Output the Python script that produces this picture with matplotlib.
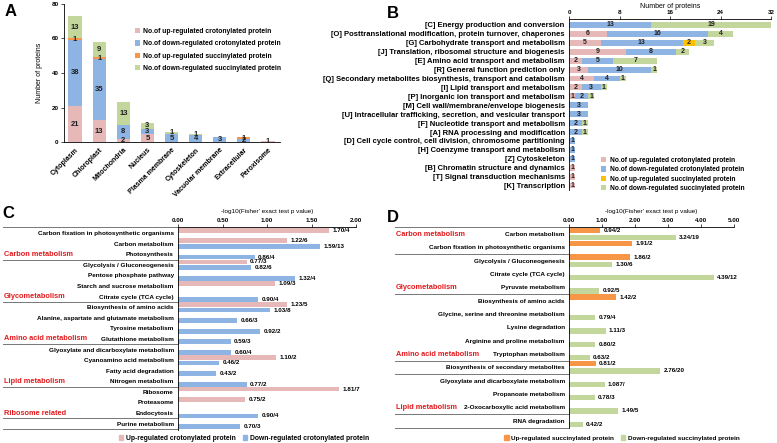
import matplotlib.pyplot as plt
import matplotlib.transforms as mtransforms
from matplotlib.patches import Patch
import numpy as np

plt.rcParams['font.family'] = ['Liberation Sans', 'DejaVu Sans']
plt.rcParams['font.weight'] = 'bold'
plt.rcParams['axes.linewidth'] = 0.6

PINK = '#E6B9B8'
BLUE = '#8DB4E2'
ORANGE = '#F79646'
GOLD = '#FFC000'
GREEN = '#C3D69B'
RED = '#E3191C'
LINE = '#606060'

# ---- A: subcellular location ----
loc_names = ['Cytoplasm', 'Chloroplast', 'Mitochondria', 'Nucleus', 'Plasma membrane',
             'Cytoskeleton', 'Vacuolar membrane', 'Extracellular', 'Peroxisome']
loc_up_cro = [21, 13, 2, 5, 0, 0, 0, 0, 1]
loc_down_cro = [38, 35, 8, 3, 5, 4, 3, 2, 0]
loc_up_suc = [1, 1, 0, 0, 0, 0, 0, 1, 0]
loc_down_suc = [13, 9, 13, 3, 1, 1, 0, 0, 0]

# ---- B: COG classes ----
cog_names = ['[C] Energy production and conversion',
             '[O] Posttranslational modification, protein turnover, chaperones',
             '[G] Carbohydrate transport and metabolism',
             '[J] Translation, ribosomal structure and biogenesis',
             '[E] Amino acid transport and metabolism',
             '[R] General function prediction only',
             '[Q] Secondary metabolites biosynthesis, transport and catabolism',
             '[I] Lipid transport and metabolism',
             '[P] Inorganic ion transport and metabolism',
             '[M] Cell wall/membrane/envelope biogenesis',
             '[U] Intracellular trafficking, secretion, and vesicular transport',
             '[F] Nucleotide transport and metabolism',
             '[A] RNA processing and modification',
             '[D] Cell cycle control, cell division, chromosome partitioning',
             '[H] Coenzyme transport and metabolism',
             '[Z] Cytoskeleton',
             '[B] Chromatin structure and dynamics',
             '[T] Signal transduction mechanisms',
             '[K] Transcription']
cog_up_cro = [0, 6, 5, 9, 2, 3, 4, 2, 1, 0, 0, 0, 0, 0, 0, 0, 1, 1, 1]
cog_down_cro = [13, 16, 13, 8, 5, 10, 4, 3, 2, 3, 3, 2, 2, 1, 1, 1, 0, 0, 0]
cog_up_suc = [0, 0, 2, 0, 0, 0, 0, 0, 0, 0, 0, 0, 0, 0, 0, 0, 0, 0, 0]
cog_down_suc = [19, 4, 3, 2, 7, 1, 1, 1, 1, 0, 0, 1, 1, 0, 0, 0, 0, 0, 0]

# ---- C: KEGG crotonylation ----
kc_names = ['Carbon fixation in photosynthetic organisms', 'Carbon metabolism', 'Photosynthesis',
            'Glycolysis / Gluconeogenesis', 'Pentose phosphate pathway', 'Starch and sucrose metabolism',
            'Citrate cycle (TCA cycle)', 'Biosynthesis of amino acids',
            'Alanine, aspartate and glutamate metabolism', 'Tyrosine metabolism',
            'Glutathione metabolism', 'Glyoxylate and dicarboxylate metabolism',
            'Cyanoamino acid metabolism', 'Fatty acid degradation', 'Nitrogen metabolism',
            'Ribosome', 'Proteasome', 'Endocytosis', 'Purine metabolism']
kc_up_val = [1.70, 1.22, 0, 0.77, 0, 1.09, 0, 1.23, 0, 0, 0, 0, 1.10, 0, 0, 1.81, 0.75, 0, 0]
kc_up_n = [4, 6, 0, 3, 0, 3, 0, 5, 0, 0, 0, 0, 2, 0, 0, 7, 2, 0, 0]
kc_down_val = [0, 1.59, 0.86, 0.82, 1.32, 0, 0.90, 1.03, 0.66, 0.92, 0.59, 0.60, 0.46, 0.43, 0.77,
               0, 0, 0.90, 0.70]
kc_down_n = [0, 13, 4, 6, 4, 0, 4, 8, 3, 2, 3, 4, 2, 2, 2, 0, 0, 4, 3]
kc_groups = [('Carbon metabolism', 2), ('Glycometabolism', 6), ('Amino acid metabolism', 10),
             ('Lipid metabolism', 14), ('Ribosome related', 17)]
kc_seps = [2.5, 6.5, 10.5, 14.5, 17.5, 18.55]

# ---- D: KEGG succinylation ----
ks_names = ['Carbon metabolism', 'Carbon fixation in photosynthetic organisms',
            'Glycolysis / Gluconeogenesis', 'Citrate cycle (TCA cycle)', 'Pyruvate metabolism',
            'Biosynthesis of amino acids', 'Glycine, serine and threonine metabolism',
            'Lysine degradation', 'Arginine and proline metabolism', 'Tryptophan metabolism',
            'Biosynthesis of secondary metabolites', 'Glyoxylate and dicarboxylate metabolism',
            'Propanoate metabolism', '2-Oxocarboxylic acid metabolism', 'RNA degradation']
ks_up_val = [0.94, 1.91, 1.86, 0, 0, 1.42, 0, 0, 0, 0, 0.81, 0, 0, 0, 0]
ks_up_n = [2, 2, 2, 0, 0, 2, 0, 0, 0, 0, 2, 0, 0, 0, 0]
ks_down_val = [3.24, 0, 1.30, 4.39, 0.92, 0, 0.79, 1.11, 0.80, 0.63, 2.76, 1.08, 0.78, 1.49, 0.42]
ks_down_n = [19, 0, 6, 12, 5, 0, 4, 3, 2, 2, 20, 7, 3, 5, 2]
ks_groups = [('Carbon metabolism', 0), ('Glycometabolism', 4), ('Amino acid metabolism', 9),
             ('Lipid metabolism', 13)]
ks_seps = [1.5, 4.5, 9.5, 10.5, 13.5, 14.55]

W, H = 777, 443
fig = plt.figure(figsize=(W / 100, H / 100), dpi=100)


def box(l, r, t, b):
    return [l / W, 1 - b / H, (r - l) / W, (b - t) / H]


# ================= A =================
axA = fig.add_axes(box(64, 280, 3.6, 142.4))
x = np.arange(len(loc_names))
bottom = np.zeros(len(x))
for vals, col, lab in [(loc_up_cro, PINK, 'No.of up-regulated crotonylated protein'),
                       (loc_down_cro, BLUE, 'No.of down-regulated crotonylated protein'),
                       (loc_up_suc, ORANGE, 'No.of up-regulated succinylated protein'),
                       (loc_down_suc, GREEN, 'No.of down-regulated succinylated protein')]:
    bars = axA.bar(x, vals, 0.55, bottom=bottom, color=col, label=lab)
    axA.bar_label(bars, labels=[str(v) if v else '' for v in vals], label_type='center',
                  fontsize=5.5, color='#202020')
    bottom += np.array(vals)
axA.set_xlim(-0.46, 8.5)
axA.set_ylim(0, 80)
axA.set_yticks([0, 20, 40, 60, 80])
axA.tick_params(axis='y', labelsize=4.5, length=2, width=0.5, pad=2)
axA.set_xticks(x)
axA.set_xticklabels(loc_names, rotation=45, ha='right', rotation_mode='anchor', fontsize=5)
axA.tick_params(axis='x', length=0, pad=3)
axA.set_ylabel('Number of proteins', fontsize=5, labelpad=6)
for s in ['top', 'right']:
    axA.spines[s].set_visible(False)
axA.legend(loc='upper left', bbox_to_anchor=(135 / W, 1 - 28 / H), bbox_transform=fig.transFigure,
           fontsize=4.85, frameon=False, handlelength=0.8, handleheight=0.8, handletextpad=0.4,
           labelspacing=0.8, borderaxespad=0, borderpad=0)
fig.text(5 / W, 1 - 4 / H, 'A', fontsize=12, va='top', ha='left')

# ================= B =================
axB = fig.add_axes(box(569, 771, 19, 190))
y = np.arange(len(cog_names))
left = np.zeros(len(y))
for vals, col, lab in [(cog_up_cro, PINK, 'No.of up-regulated crotonylated protein'),
                       (cog_down_cro, BLUE, 'No.of down-regulated crotonylated protein'),
                       (cog_up_suc, GOLD, 'No.of up-regulated succinylated protein'),
                       (cog_down_suc, GREEN, 'No.of down-regulated succinylated protein')]:
    bars = axB.barh(y, vals, 0.66, left=left, color=col, label=lab)
    axB.bar_label(bars, labels=[str(v) if v else '' for v in vals], label_type='center',
                  fontsize=5, color='#202020')
    left += np.array(vals)
axB.set_xlim(0, 32)
axB.set_ylim(18.5, -0.67)
axB.set_xticks([0, 8, 16, 24, 32])
axB.xaxis.tick_top()
axB.xaxis.set_label_position('top')
axB.set_xlabel('Number of proteins', fontsize=5, labelpad=1.5)
axB.tick_params(axis='x', labelsize=4.5, length=2, width=0.5, pad=1)
axB.set_yticks(y)
axB.set_yticklabels(cog_names, fontsize=5.5)
axB.tick_params(axis='y', length=0, pad=3)
for s in ['bottom', 'right']:
    axB.spines[s].set_visible(False)
axB.legend(loc='upper left', bbox_to_anchor=(601 / W, 1 - 157 / H), bbox_transform=fig.transFigure,
           fontsize=4.8, frameon=False, handlelength=0.8, handleheight=0.8, handletextpad=0.5,
           labelspacing=0.35, borderaxespad=0, borderpad=0)
fig.text(387 / W, 1 - 6 / H, 'B', fontsize=12, va='top', ha='left')


# ================= C and D =================
def kegg_panel(rect, names, up_val, up_n, down_val, down_n, up_col, down_col,
               xmax, xstep, gap, ylim, seps, groups, line_left, bar_h, off):
    ax = fig.add_axes(rect)
    yy = np.arange(len(names))
    for vals, ns, col, sign in [(up_val, up_n, up_col, -1), (down_val, down_n, down_col, 1)]:
        for i, (v, n) in enumerate(zip(vals, ns)):
            if v == 0:
                continue
            ax.barh(i + sign * off, v, bar_h, color=col)
            ax.text(v + gap, i + sign * off, f'{v:.2f}/{n}', fontsize=4.5, va='center', ha='left')
    ax.set_xlim(0, xmax)
    ax.set_ylim(*ylim)
    ticks = np.arange(0, xmax + 1e-9, xstep)
    ax.set_xticks(ticks)
    ax.set_xticklabels([f'{t:.2f}' for t in ticks])
    ax.xaxis.tick_top()
    ax.xaxis.set_label_position('top')
    ax.set_xlabel("-log10(Fisher' exact test p value)", fontsize=4.6, labelpad=3.5)
    ax.tick_params(axis='x', labelsize=4.5, length=2, width=0.5, pad=1)
    ax.set_yticks(yy)
    ax.set_yticklabels(names, fontsize=4.6)
    ax.tick_params(axis='y', length=0, pad=3)
    for s in ['bottom', 'right']:
        ax.spines[s].set_visible(False)
    tr = mtransforms.blended_transform_factory(ax.transAxes, ax.transData)
    for sy in [ylim[1]] + seps:
        ax.plot([line_left, 0], [sy, sy], transform=tr, clip_on=False, color=LINE, lw=0.6)
    for g, row in groups:
        ax.text(line_left + 0.005, row, g, transform=tr, fontsize=5.3, color=RED,
                va='center', ha='left')
    return ax


axC = kegg_panel(box(178, 356, 227, 430), kc_names, kc_up_val, kc_up_n, kc_down_val, kc_down_n,
                 PINK, BLUE, 2.0, 0.5, 0.04, (18.6, -0.57), kc_seps, kc_groups, -0.983, 0.45, 0.27)
fig.text(2 / W, 1 - 206 / H, 'C', fontsize=12, va='top', ha='left')
fig.legend(handles=[Patch(color=PINK, label='Up-regulated crotonylated protein'),
                    Patch(color=BLUE, label='Down-regulated crotonylated protein')],
           loc='center', bbox_to_anchor=(244 / W, 1 - 438 / H), ncol=2, fontsize=4.9,
           frameon=False, handlelength=0.7, handleheight=0.7, handletextpad=0.4,
           columnspacing=1.0, borderpad=0)

axD = kegg_panel(box(569, 734, 227, 428), ks_names, ks_up_val, ks_up_n, ks_down_val, ks_down_n,
                 ORANGE, GREEN, 5.0, 1.0, 0.1, (14.55, -0.53), ks_seps, ks_groups, -1.055, 0.4, 0.27)
# the Glyoxylate label is printed as "1.087/" in the source figure
for t in axD.texts:
    if t.get_text() == '1.08/7':
        t.set_text('1.087/')
fig.text(387 / W, 1 - 210 / H, 'D', fontsize=12, va='top', ha='left')
fig.legend(handles=[Patch(color=ORANGE, label='Up-regulated succinylated protein'),
                    Patch(color=GREEN, label='Down-regulated succinylated protein')],
           loc='center', bbox_to_anchor=(622 / W, 1 - 438 / H), ncol=2, fontsize=4.6,
           frameon=False, handlelength=0.7, handleheight=0.7, handletextpad=0.4,
           columnspacing=1.0, borderpad=0)

fig.savefig('out.png', dpi=100)
